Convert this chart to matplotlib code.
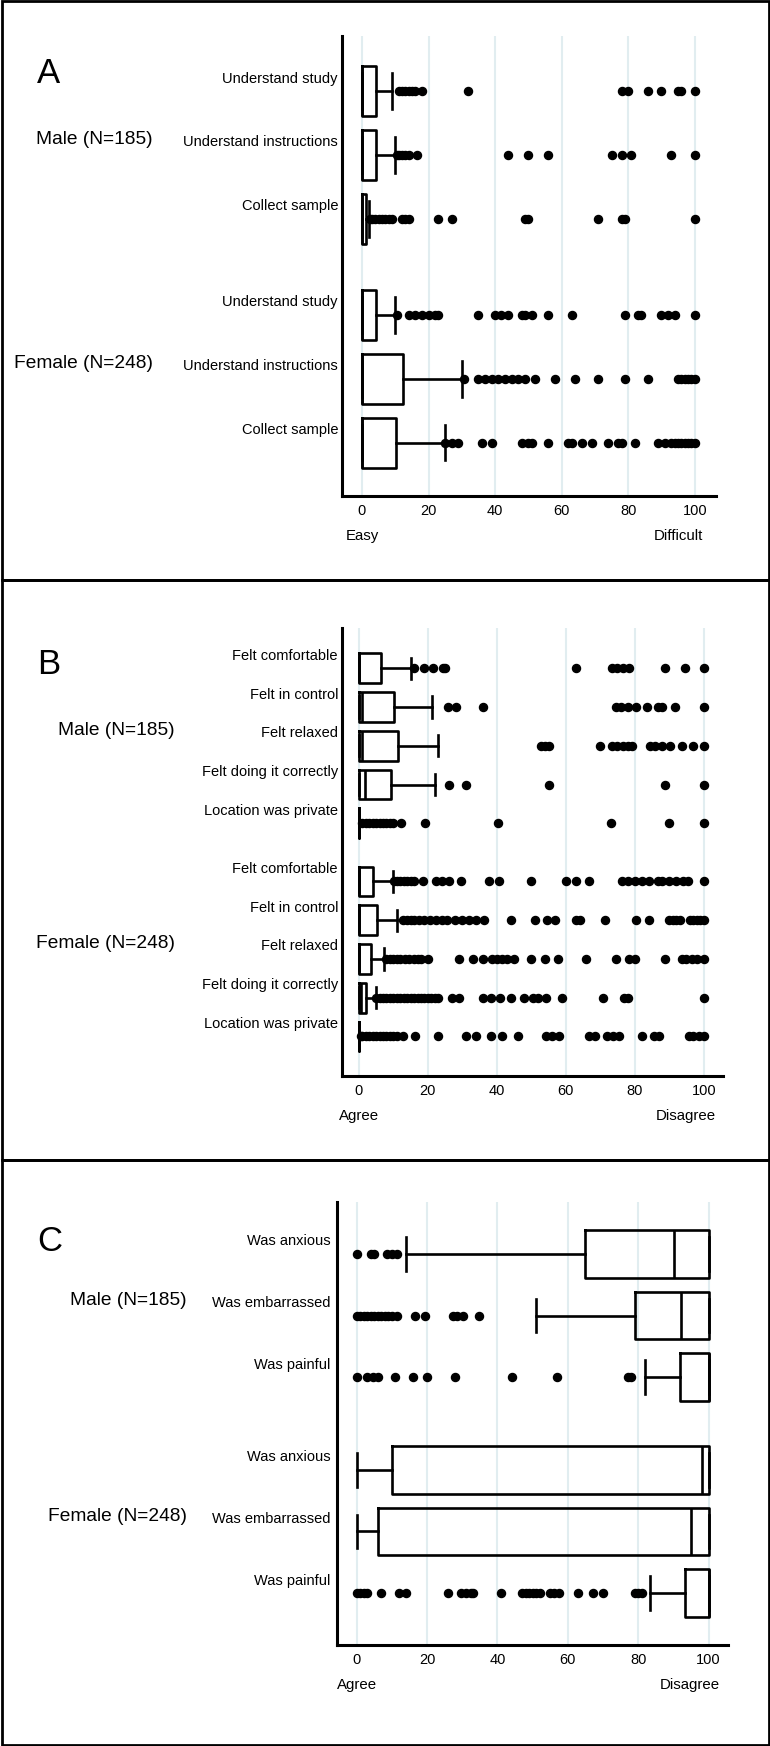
import matplotlib
matplotlib.use("Agg")
import matplotlib.pyplot as plt
from matplotlib.patches import Rectangle

plt.rcParams['font.family'] = ['Liberation Sans', 'DejaVu Sans']

# ---------------- data ----------------
group_labels = ["Male (N=185)", "Female (N=248)"]

# Panel A: ease of study tasks
A_labels = ["Understand study", "Understand instructions", "Collect sample"]
A_male_q1 = [0, 0, 0]
A_male_med = [0, 0, 0]
A_male_q3 = [4.2, 4.2, 1.2]
A_male_lo = [0, 0, 0]
A_male_hi = [9, 10, 2.1]
A_male_fliers = [
    [11, 12, 13, 14, 15, 16, 18, 32, 78, 80, 86, 90, 95, 96, 100],
    [10.4, 11, 12, 13, 14, 16.6, 44, 50, 56, 75, 78, 81, 93, 100],
    [2.5, 3, 4, 5, 6, 7, 8, 9, 12, 13, 14, 23, 27, 49, 50, 71, 78, 79, 100],
]
A_female_q1 = [0, 0, 0]
A_female_med = [0, 0, 0]
A_female_q3 = [4.3, 12.4, 10.2]
A_female_lo = [0, 0, 0]
A_female_hi = [10, 30, 25]
A_female_fliers = [
    [10.5, 14, 16, 18, 20, 22, 23, 35, 40, 41.7, 44, 48, 49, 51, 56, 63, 79, 83, 84, 90, 92, 94, 100],
    [30.6, 35, 37, 39, 41, 43, 45, 47, 49, 52, 58, 64, 71, 79, 86, 95, 96, 97, 98, 99, 100],
    [25, 27, 29, 36, 39, 48, 50, 51, 56, 62, 63, 66, 69, 74, 77, 78, 82, 89, 91, 93, 94, 95, 96, 97,
     98, 99, 100],
]

# Panel B: experience statements
B_labels = ["Felt comfortable", "Felt in control", "Felt relaxed", "Felt doing it correctly",
            "Location was private"]
B_male_q1 = [0, 0, 0, 0, 0]
B_male_med = [0, 1, 1, 1.9, 0]
B_male_q3 = [6.5, 10.3, 11.3, 9.4, 0]
B_male_lo = [0, 0, 0, 0, 0]
B_male_hi = [15, 21.2, 23, 22.2, 0]
B_male_fliers = [
    [16, 19, 21.4, 24.3, 25, 63, 73.4, 75, 76.5, 78.3, 88.9, 94.7, 100],
    [25.7, 28.1, 36, 74.7, 76, 78, 80.5, 83.5, 86.7, 88, 91.8, 100],
    [52.7, 54, 55, 70, 73.4, 75, 76.5, 78, 79.2, 84.5, 86, 88, 90.3, 93.7, 96.8, 100],
    [26, 31, 55, 88.9, 100],
    [1, 2, 3, 4, 5, 6, 7, 8, 9, 10, 12.2, 19.2, 40.2, 73, 89.8, 100],
]
B_female_q1 = [0, 0, 0, 0, 0]
B_female_med = [0, 0, 0, 0.5, 0]
B_female_q3 = [4.2, 5.2, 3.4, 2.1, 0]
B_female_lo = [0, 0, 0, 0, 0]
B_female_hi = [10, 11.1, 7.2, 5, 0]
B_female_fliers = [
    [10.3, 11, 12, 13, 14, 15, 16, 18.5, 22.4, 24, 26, 29.6, 37.8, 40.7, 49.8, 60, 63, 66.7, 76.3,
     78, 80, 82, 84, 86.7, 88, 90, 92, 94, 95.5, 100],
    [12.7, 14, 15, 16, 17.5, 19, 20.5, 22.5, 24, 25.5, 28, 30, 32, 34, 36.3, 44, 51, 54.6, 57, 63,
     64, 71.5, 80.5, 84, 89.8, 91, 92, 93, 96, 97, 98, 99, 100],
    [7.9, 9, 10, 11, 12, 13.5, 14.5, 16, 17, 18, 19.9, 29, 33, 36, 38.6, 40, 41.5, 43, 45, 49.8,
     53.9, 57.7, 66, 74.7, 78.3, 80, 88.9, 93.7, 95, 96.5, 98, 100],
    [5, 6, 7, 8, 9, 10, 11, 12, 13, 14, 15, 16, 17, 18, 19, 20, 21, 22, 23, 27, 29, 35.9, 38.4, 41,
     44, 47.9, 50.5, 52, 54.2, 59, 70.8, 76.8, 78, 100],
    [0.5, 1, 2, 3, 4, 5, 6, 7, 8, 9, 10, 11, 12.7, 16.4, 22.8, 31, 33.9, 38.3, 41.6, 46, 54.2, 56,
     58, 66.7, 68.6, 72, 73.8, 75.4, 82, 85.5, 87, 95.6, 97, 98.5, 100],
]

# Panel C: negative statements
C_labels = ["Was anxious", "Was embarrassed", "Was painful"]
C_male_q1 = [64.8, 79, 92]
C_male_med = [90.2, 92.2, 100]
C_male_q3 = [100, 100, 100]
C_male_lo = [13.9, 51, 82]
C_male_hi = [100, 100, 100]
C_male_fliers = [
    [0, 4, 5, 8.5, 10, 11.4],
    [0, 1, 2, 3, 4, 5, 6, 7, 8, 9, 10, 11.4, 16.6, 19.4, 27.4, 28.5, 30.3, 34.8],
    [0, 3, 4.5, 6, 11, 16, 20, 28, 44, 57, 77, 78],
]
C_female_q1 = [10.1, 6, 93.2]
C_female_med = [98.1, 95, 100]
C_female_q3 = [100, 100, 100]
C_female_lo = [0, 0, 83.2]
C_female_hi = [100, 100, 100]
C_female_fliers = [
    [],
    [],
    [0, 1, 2, 3, 7, 12, 14, 26, 29.7, 31, 32.5, 33, 41, 47, 48, 49, 50, 51, 52, 55, 56, 57.4, 63,
     67, 70, 79, 80, 81],
]

ticks = [0, 20, 40, 60, 80, 100]


def make_stats(labels, q1, med, q3, lo, hi, fliers):
    return [dict(label=l, q1=a, med=m, q3=b, whislo=w1, whishi=w2, fliers=f)
            for l, a, m, b, w1, w2, f in zip(labels, q1, med, q3, lo, hi, fliers)]


W, H = 770, 1746
fig = plt.figure(figsize=(W / 100, H / 100), dpi=100)


def px_axes(left, right, top, bottom):
    return fig.add_axes([left / W, 1 - bottom / H, (right - left) / W, (bottom - top) / H])


def panel(ax, letter, letter_y, labels, male, female, xlim, ylim, lab_dx, grp_dx,
          left_word, right_word, right_x):
    n = len(labels)
    pos_m = list(range(n))
    pos_f = [n + 0.5 + i for i in range(n)]
    lw = 1.9
    for stats, pos in ((male, pos_m), (female, pos_f)):
        ax.bxp(stats, positions=pos, orientation='horizontal', widths=0.77, capwidths=0.55,
               showfliers=True,
               boxprops=dict(color='black', lw=lw),
               medianprops=dict(color='black', lw=lw),
               whiskerprops=dict(color='black', lw=lw),
               capprops=dict(color='black', lw=lw),
               flierprops=dict(marker='o', markersize=5.8, markerfacecolor='black',
                               markeredgecolor='black', linestyle='none'))
    ax.set_xlim(*xlim)
    ax.set_ylim(*ylim)
    ax.set_yticks([])
    ax.set_xticks(ticks)
    ax.set_xticklabels([str(t) for t in ticks])
    ax.tick_params(axis='x', length=0, pad=6, labelsize=10.5)
    ax.xaxis.grid(True, color='#e1edf0', lw=1.5)
    ax.set_axisbelow(True)
    for s in ('top', 'right'):
        ax.spines[s].set_visible(False)
    for s in ('left', 'bottom'):
        ax.spines[s].set_linewidth(2.2)

    # row labels
    for lab, p in zip(labels + labels, pos_m + pos_f):
        ax.annotate(lab, xy=(0, p), xycoords=('axes fraction', 'data'),
                    xytext=(lab_dx, 12.5), textcoords='offset pixels',
                    ha='right', va='center', fontsize=10.5, annotation_clip=False)
    # group labels next to the middle row
    mid = n // 2
    for g, p in zip(group_labels, (pos_m[mid], pos_f[mid])):
        ax.annotate(g, xy=(0, p), xycoords=('axes fraction', 'data'),
                    xytext=(grp_dx, 15), textcoords='offset pixels',
                    ha='right', va='center', fontsize=13.8, annotation_clip=False)
    # scale end words
    ax.annotate(left_word, xy=(0, 0), xycoords=('data', 'axes fraction'),
                xytext=(0, -40), textcoords='offset pixels',
                ha='center', va='center', fontsize=10.8, annotation_clip=False)
    ax.annotate(right_word, xy=(right_x, 0), xycoords=('data', 'axes fraction'),
                xytext=(0, -40), textcoords='offset pixels',
                ha='right', va='center', fontsize=10.8, annotation_clip=False)
    fig.text(37 / W, 1 - letter_y / H, letter, fontsize=25, ha='left', va='baseline')


axA = px_axes(342, 716, 36, 496)
panel(axA, "A", 83, A_labels,
      make_stats(A_labels, A_male_q1, A_male_med, A_male_q3, A_male_lo, A_male_hi, A_male_fliers),
      make_stats(A_labels, A_female_q1, A_female_med, A_female_q3, A_female_lo, A_female_hi,
                 A_female_fliers),
      (-6, 106.4), (6.33, -0.86), -4, -189, "Easy", "Difficult", 102.6)

axB = px_axes(342, 723, 628, 1076)
panel(axB, "B", 674, B_labels,
      make_stats(B_labels, B_male_q1, B_male_med, B_male_q3, B_male_lo, B_male_hi, B_male_fliers),
      make_stats(B_labels, B_female_q1, B_female_med, B_female_q3, B_female_lo, B_female_hi,
                 B_female_fliers),
      (-4.9, 105.6), (10.52, -1.04), -4, -167, "Agree", "Disagree", 103.4)

axC = px_axes(337, 728, 1202, 1645)
panel(axC, "C", 1251, C_labels,
      make_stats(C_labels, C_male_q1, C_male_med, C_male_q3, C_male_lo, C_male_hi, C_male_fliers),
      make_stats(C_labels, C_female_q1, C_female_med, C_female_q3, C_female_lo, C_female_hi,
                 C_female_fliers),
      (-5.6, 105.5), (6.34, -0.84), -6.5, -150, "Agree", "Disagree", 103.2)

# panel frames
for top, bottom in ((1.5, 580), (580, 1160), (1160, 1744.5)):
    fig.add_artist(Rectangle((1.5 / W, 1 - bottom / H), (W - 3) / W, (bottom - top) / H,
                             transform=fig.transFigure, fill=False, lw=2.0, color='black'))

fig.savefig("out.png", dpi=100, facecolor='white')
